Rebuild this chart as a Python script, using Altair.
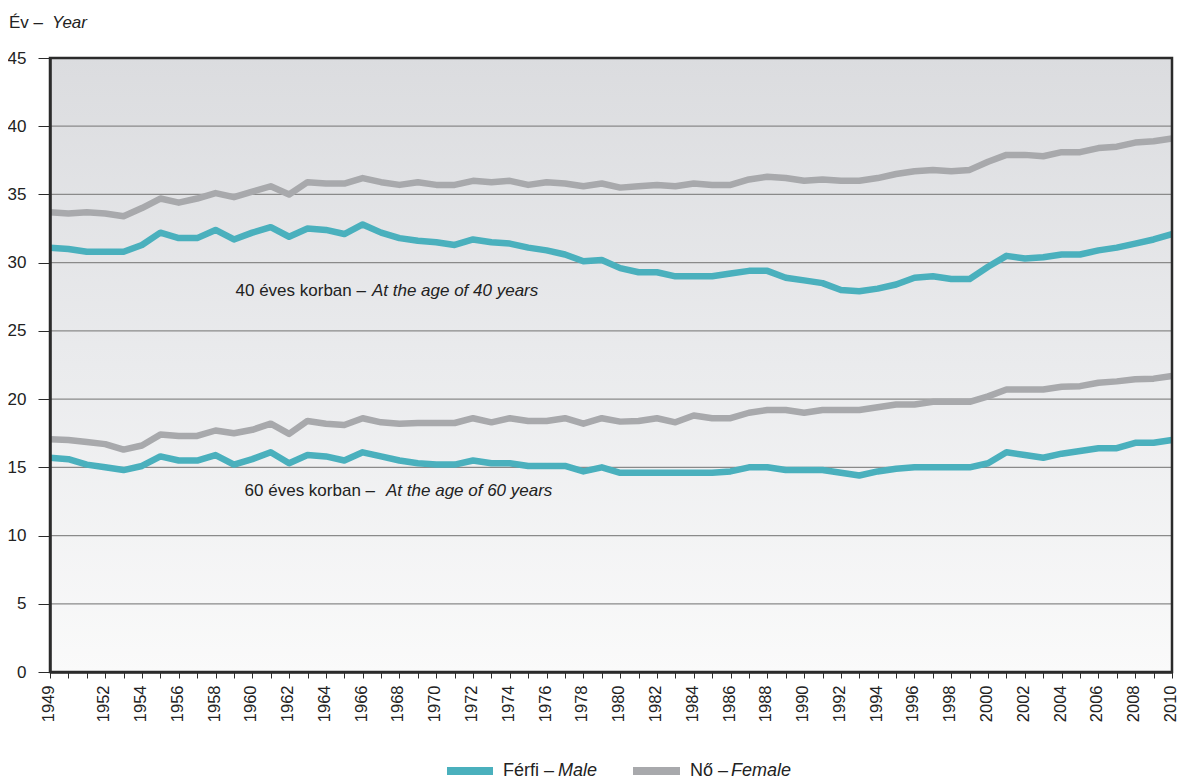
import altair as alt
import pandas as pd

years = list(range(1949, 2011))

male40 = [31.1, 31.0, 30.8, 30.8, 30.8, 31.3, 32.2, 31.8, 31.8, 32.4,
          31.7, 32.2, 32.6, 31.9, 32.5, 32.4, 32.1, 32.8, 32.2, 31.8,
          31.6, 31.5, 31.3, 31.7, 31.5, 31.4, 31.1, 30.9, 30.6, 30.1,
          30.2, 29.6, 29.3, 29.3, 29.0, 29.0, 29.0, 29.2, 29.4, 29.4,
          28.9, 28.7, 28.5, 28.0, 27.9, 28.1, 28.4, 28.9, 29.0, 28.8,
          28.8, 29.7, 30.5, 30.3, 30.4, 30.6, 30.6, 30.9, 31.1, 31.4,
          31.7, 32.1]
female40 = [33.7, 33.6, 33.7, 33.6, 33.4, 34.0, 34.7, 34.4, 34.7, 35.1,
            34.8, 35.2, 35.6, 35.0, 35.9, 35.8, 35.8, 36.2, 35.9, 35.7,
            35.9, 35.7, 35.7, 36.0, 35.9, 36.0, 35.7, 35.9, 35.8, 35.6,
            35.8, 35.5, 35.6, 35.7, 35.6, 35.8, 35.7, 35.7, 36.1, 36.3,
            36.2, 36.0, 36.1, 36.0, 36.0, 36.2, 36.5, 36.7, 36.8, 36.7,
            36.8, 37.4, 37.9, 37.9, 37.8, 38.1, 38.1, 38.4, 38.5, 38.8,
            38.9, 39.1]
male60 = [15.7, 15.6, 15.2, 15.0, 14.8, 15.1, 15.8, 15.5, 15.5, 15.9,
          15.2, 15.6, 16.1, 15.3, 15.9, 15.8, 15.5, 16.1, 15.8, 15.5,
          15.3, 15.2, 15.2, 15.5, 15.3, 15.3, 15.1, 15.1, 15.1, 14.7,
          15.0, 14.6, 14.6, 14.6, 14.6, 14.6, 14.6, 14.7, 15.0, 15.0,
          14.8, 14.8, 14.8, 14.6, 14.4, 14.7, 14.9, 15.0, 15.0, 15.0,
          15.0, 15.3, 16.1, 15.9, 15.7, 16.0, 16.2, 16.4, 16.4, 16.8,
          16.8, 17.0]
female60 = [17.05, 17.0, 16.85, 16.7, 16.3, 16.6, 17.4, 17.3, 17.3, 17.7,
            17.5, 17.75, 18.2, 17.45, 18.4, 18.2, 18.1, 18.6, 18.3, 18.2,
            18.25, 18.25, 18.25, 18.6, 18.3, 18.6, 18.4, 18.4, 18.6, 18.2,
            18.6, 18.35, 18.4, 18.6, 18.3, 18.8, 18.6, 18.6, 19.0, 19.2,
            19.2, 19.0, 19.2, 19.2, 19.2, 19.4, 19.6, 19.6, 19.8, 19.8,
            19.8, 20.2, 20.7, 20.7, 20.7, 20.9, 20.95, 21.2, 21.3, 21.45,
            21.5, 21.7]

y_ticks = [0, 5, 10, 15, 20, 25, 30, 35, 40, 45]
grid_vals = [5, 10, 15, 20, 25, 30, 35, 40]

TEAL = "#4ab0bd"
GREY = "#a8a9ac"
DARK = "#2b2b2b"
FONT = "Liberation Sans"

rows = []
for key, sex, vals in [("m40", "Férfi", male40), ("f40", "Nő", female40),
                       ("m60", "Férfi", male60), ("f60", "Nő", female60)]:
    for yr, v in zip(years, vals):
        rows.append({"year": yr, "value": v, "series": key, "sex": sex})
df = pd.DataFrame(rows)

W, H = 1122, 614

x_axis = alt.Axis(
    values=years,
    format="d",
    labelExpr="(datum.value == 1949 || (datum.value % 2 == 0 && datum.value != 1950)) ? datum.label : ''",
    labelAngle=-90,
    labelOverlap=False,
    labelFlush=False,
    labelFont=FONT,
    labelFontSize=16.5,
    labelOffset=-1.5,
    labelColor="#222222",
    labelPadding=7,
    tickSize=6,
    tickColor=DARK,
    tickWidth=1,
    domainColor=DARK,
    domainWidth=2.5,
    grid=False,
    zindex=1,
)
y_axis = alt.Axis(
    values=y_ticks,
    labelFont=FONT,
    labelFontSize=17,
    labelColor="#222222",
    labelPadding=12,
    tickSize=12,
    tickColor=DARK,
    tickWidth=1,
    domainColor=DARK,
    domainWidth=2.5,
    grid=False,
    zindex=1,
)
x_scale = alt.Scale(domain=[1949, 2010], nice=False, zero=False)
y_scale = alt.Scale(domain=[0, 45], nice=False)


def X():
    return alt.X("year:Q", scale=x_scale, axis=x_axis, title=None)


def Y():
    return alt.Y("value:Q", scale=y_scale, axis=y_axis, title=None)


one = alt.Data(values=[{"k": 1}])

bg = alt.Chart(one).mark_rect(
    color=alt.Gradient(
        gradient="linear",
        stops=[alt.GradientStop(color="#dbdcdf", offset=0),
               alt.GradientStop(color="#eaebed", offset=0.5),
               alt.GradientStop(color="#fafafa", offset=1)],
        x1=0, x2=0, y1=0, y2=1,
    )
).encode(x=alt.value(0), x2=alt.value(W), y=alt.value(0), y2=alt.value(H))

grid = alt.Chart(pd.DataFrame({"value": grid_vals})).mark_rule(
    color="#8a8a8a", strokeWidth=1.2
).encode(y=Y())

lines = alt.Chart(df).mark_line(strokeWidth=6.5, strokeJoin="round").encode(
    x=X(),
    y=Y(),
    detail="series:N",
    color=alt.Color("sex:N", scale=alt.Scale(domain=["Férfi", "Nő"], range=[TEAL, GREY]), legend=None),
)

ann = pd.DataFrame({
    "year": [1966.34, 1966.97],
    "value": [27.95, 13.3],
    "hu": ["40 éves korban –", "60 éves korban –"],
    "en": ["At the age of 40 years", "At the age of 60 years"],
})
ann40 = ann.iloc[[0]]
ann60 = ann.iloc[[1]]


def ann_layers(d, gap):
    a = alt.Chart(d).mark_text(align="right", baseline="middle", dx=-gap, font=FONT,
                               fontSize=17, color="#222222").encode(
        x=X(), y=Y(), text="hu:N")
    b = alt.Chart(d).mark_text(align="left", baseline="middle", dx=gap, font=FONT,
                               fontSize=17, fontStyle="italic", color="#222222").encode(
        x=X(), y=Y(), text="en:N")
    return [a, b]


frame = alt.Chart(one).mark_rect(filled=False, stroke=DARK, strokeWidth=2.5).encode(
    x=alt.value(0), x2=alt.value(W), y=alt.value(0), y2=alt.value(H))


def txt(s, px, py, italic=False, size=17):
    kw = dict(align="left", baseline="middle", font=FONT, fontSize=size, color="#222222")
    if italic:
        kw["fontStyle"] = "italic"
    return alt.Chart(one).mark_text(text=s, **kw).encode(x=alt.value(px), y=alt.value(py))


y_title = [txt("Év –", -41, -35), txt("Year", 2, -35, italic=True)]

leg_y = 713
legend = [
    alt.Chart(one).mark_rule(color=TEAL, strokeWidth=8).encode(
        x=alt.value(397), x2=alt.value(443), y=alt.value(leg_y)),
    txt("Férfi –", 453, leg_y, size=18),
    txt("Male", 508, leg_y, italic=True, size=18),
    alt.Chart(one).mark_rule(color=GREY, strokeWidth=8).encode(
        x=alt.value(583), x2=alt.value(630), y=alt.value(leg_y)),
    txt("Nő –", 640, leg_y, size=18),
    txt("Female", 681, leg_y, italic=True, size=18),
]

chart = alt.layer(
    bg, grid, lines, *ann_layers(ann40, 3), *ann_layers(ann60, 5.5), frame, *y_title, *legend
).properties(
    width=W, height=H,
    autosize=alt.AutoSizeParams(type="none"),
    padding={"left": 42, "top": 50, "right": 7, "bottom": 111},
).configure_view(strokeWidth=0).configure(background="white")

chart.save("out.html", embed_options={"renderer": "svg", "actions": False})
